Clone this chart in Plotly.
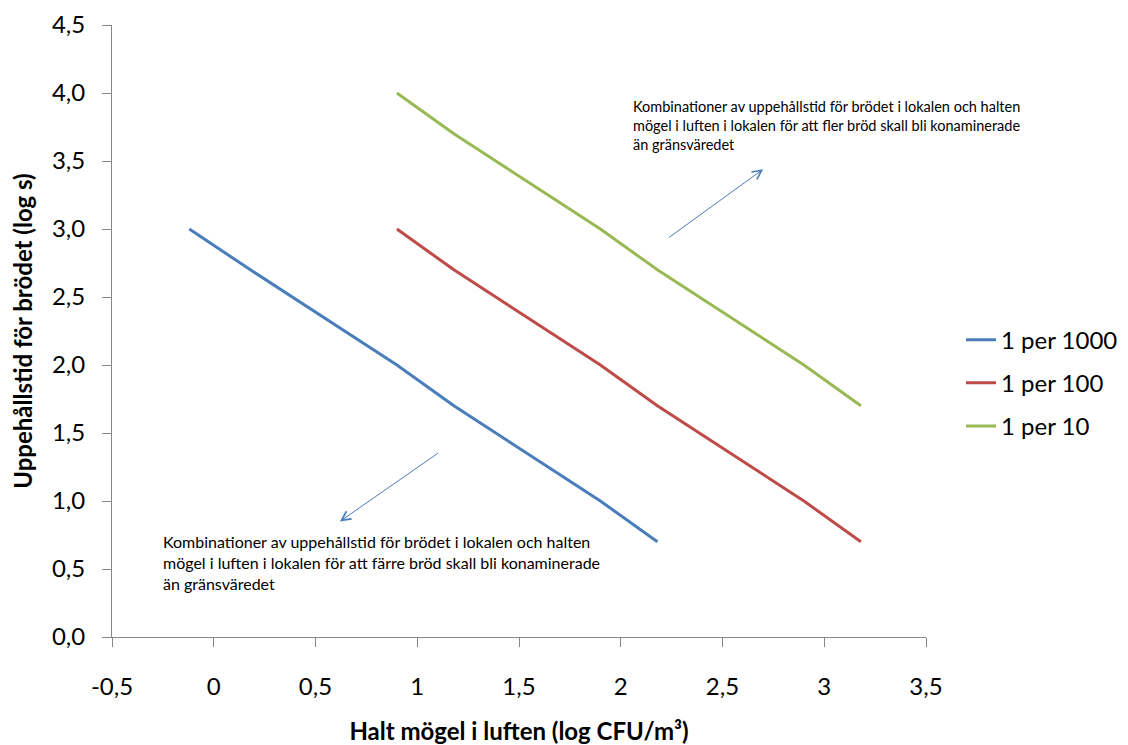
import plotly.graph_objects as go

# Data
x_1000 = [-0.12, 0.18, 0.9, 1.18, 1.9, 2.18]
y_1000 = [3.0, 2.7, 2.0, 1.7, 1.0, 0.7]
x_100 = [0.9, 1.18, 1.9, 2.18, 2.9, 3.18]
y_100 = [3.0, 2.7, 2.0, 1.7, 1.0, 0.7]
x_10 = [0.9, 1.18, 1.9, 2.18, 2.9, 3.18]
y_10 = [4.0, 3.7, 3.0, 2.7, 2.0, 1.7]
series_names = ["1 per 1000", "1 per 100", "1 per 10"]

x_tickvals = [-0.5, 0, 0.5, 1, 1.5, 2, 2.5, 3, 3.5]
x_ticktext = ["-0,5", "0", "0,5", "1", "1,5", "2", "2,5", "3", "3,5"]
y_tickvals = [0, 0.5, 1, 1.5, 2, 2.5, 3, 3.5, 4, 4.5]
y_ticktext = ["0,0", "0,5", "1,0", "1,5", "2,0", "2,5", "3,0", "3,5", "4,0", "4,5"]

text_upper = ("Kombinationer av uppehållstid för brödet i lokalen och halten<br>"
              "mögel i luften i lokalen för att fler bröd skall bli konaminerade<br>"
              "än gränsväredet")
text_lower = ("Kombinationer av uppehållstid för brödet i lokalen och halten<br>"
              "mögel i luften i lokalen för att färre bröd skall bli konaminerade<br>"
              "än gränsväredet")

colors = ["#4A7EBB", "#BE4B48", "#98B954"]
AX = "#868686"
FONT = "Lato, Liberation Sans, sans-serif"

fig = go.Figure()
for xs, ys, name, c in zip([x_1000, x_100, x_10], [y_1000, y_100, y_10], series_names, colors):
    fig.add_trace(go.Scatter(x=xs, y=ys, mode="lines", name=name, legendgroup=name,
                             line=dict(color=c, width=3)))

fig.update_layout(
    width=1120, height=737,
    margin=dict(l=104, r=202, t=17, b=108, autoexpand=False),
    plot_bgcolor="white", paper_bgcolor="white",
    font=dict(family=FONT, size=24, color="#000000"),
    showlegend=True,
    legend=dict(x=1.043, y=0.522, xanchor="left", yanchor="top",
                font=dict(size=24, family=FONT), tracegroupgap=9,
                traceorder="grouped", bgcolor="rgba(0,0,0,0)"),
)
fig.update_xaxes(range=[-0.5, 3.5], tickvals=x_tickvals, ticktext=x_ticktext,
                 showgrid=False, zeroline=False, showline=True, linecolor=AX, linewidth=1,
                 ticks="outside", ticklen=9, tickcolor=AX, tickfont=dict(size=24),
                 ticklabelstandoff=19,
                 title=dict(text="<b>Halt mögel i luften (log CFU/m³)</b>", font=dict(size=24), standoff=25),
                 automargin=False)
fig.update_yaxes(range=[0, 4.5], tickvals=y_tickvals, ticktext=y_ticktext,
                 showgrid=False, zeroline=False, showline=True, linecolor=AX, linewidth=1,
                 ticks="outside", ticklen=9, tickcolor=AX, tickfont=dict(size=24),
                 ticklabelstandoff=12,
                 title=dict(text="<b>Uppehållstid för brödet (log s)</b>", font=dict(size=24), standoff=12),
                 automargin=False)

# arrows
fig.add_annotation(x=2.70, y=3.44, ax=2.23, ay=2.93, xref="x", yref="y", axref="x", ayref="y",
                   text="", showarrow=True, arrowhead=5, arrowsize=1.8, arrowwidth=1, arrowcolor="#4A7EBB")
fig.add_annotation(x=0.62, y=0.85, ax=1.11, ay=1.36, xref="x", yref="y", axref="x", ayref="y",
                   text="", showarrow=True, arrowhead=5, arrowsize=1.8, arrowwidth=1, arrowcolor="#4A7EBB")
# texts
fig.add_annotation(x=2.05, y=3.98, xref="x", yref="y", xanchor="left", yanchor="top", align="left",
                   text=text_upper, showarrow=False, font=dict(family=FONT, size=14.5, color="#000000"))
fig.add_annotation(x=-0.26, y=0.79, xref="x", yref="y", xanchor="left", yanchor="top", align="left",
                   text=text_lower, showarrow=False, font=dict(family=FONT, size=16, color="#000000"))

fig.write_html("out.html")
